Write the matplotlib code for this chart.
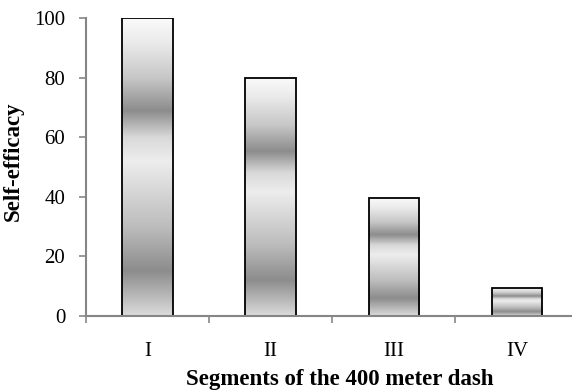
import numpy as np
import matplotlib
matplotlib.use("Agg")
import matplotlib.pyplot as plt
from matplotlib.colors import LinearSegmentedColormap

categories = ["I", "II", "III", "IV"]
self_efficacy = [100, 80, 39.5, 9.5]
y_ticks = [0, 20, 40, 60, 80, 100]

plt.rcParams["font.family"] = ["Liberation Serif", "DejaVu Serif"]

# vertical chrome-like shading, 0 = bar bottom, 1 = bar top
shade = LinearSegmentedColormap.from_list(
    "chrome",
    [(0.00, (0.86,) * 3), (0.15, (0.55,) * 3), (0.30, (0.74,) * 3),
     (0.52, (0.93,) * 3), (0.60, (0.85,) * 3), (0.69, (0.55,) * 3),
     (0.80, (0.78,) * 3), (0.92, (0.92,) * 3), (1.00, (0.98,) * 3)])

fig = plt.figure(figsize=(5.72, 3.92), dpi=100)
ax = fig.add_axes([86 / 572, (392 - 316) / 392, 1 - 86 / 572, (316 - 18) / 392])

x = np.arange(len(categories))
bars = ax.bar(x, self_efficacy, width=0.41, facecolor="none",
              edgecolor="black", linewidth=1.3, zorder=3)

grad = np.linspace(0, 1, 256).reshape(-1, 1)
for b in bars:
    x0, w, h = b.get_x(), b.get_width(), b.get_height()
    im = ax.imshow(grad, cmap=shade, origin="lower", aspect="auto",
                   extent=(x0, x0 + w, 0, h), zorder=2, interpolation="bilinear")
    im.set_clip_path(b)

ax.set_xlim(-0.5, 3.5 - 6.5 / 123.3)
ax.set_ylim(0, 100)
ax.set_yticks(y_ticks)
ax.set_yticklabels([str(v) for v in y_ticks], fontsize=15)
ax.set_xticks(x)
ax.set_xticklabels(categories, fontsize=15)
ax.set_xticks(np.arange(-0.5, 3.5, 1.0), minor=True)
ax.tick_params(axis="x", which="major", length=0, pad=19)
ax.tick_params(axis="x", which="minor", length=5, width=1.2, color="#868686", direction="out")
ax.tick_params(axis="y", length=5, width=1.2, color="#868686", direction="out", pad=10)

for side in ("top", "right"):
    ax.spines[side].set_visible(False)
for side in ("left", "bottom"):
    ax.spines[side].set_color("#868686")
    ax.spines[side].set_linewidth(1.5)
ax.spines["bottom"].set_zorder(4)

fig.text(340 / 572, 1 - 380 / 392, "Segments of the 400 meter dash",
         ha="center", va="center", fontsize=16.5, fontweight="bold")
fig.text(13 / 572, 1 - 161 / 392, "Self-efficacy", rotation=90,
         ha="center", va="center", fontsize=16.5, fontweight="bold")

fig.savefig("out.png", dpi=100)
